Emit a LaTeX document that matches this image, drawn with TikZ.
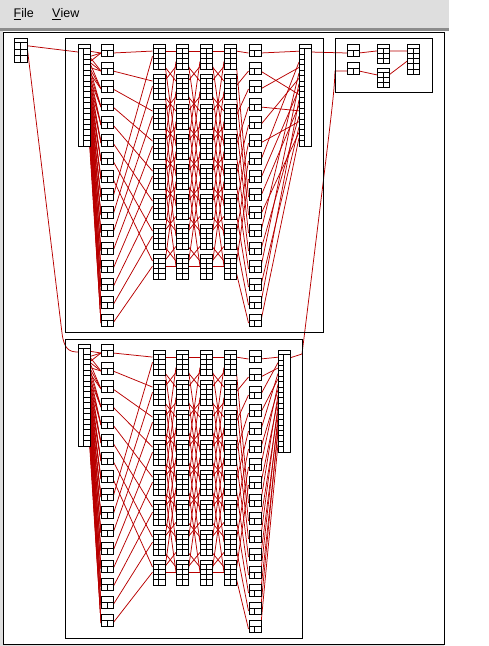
\documentclass[tikz,border=0pt]{standalone}
\usepackage{fontspec}
\setsansfont{Liberation Sans}
\usetikzlibrary{calc}
\pgfdeclarelayer{canvas}
\pgfdeclarelayer{edges}
\pgfsetlayers{canvas,edges,main}
\definecolor{edgered}{RGB}{185,0,0}
\definecolor{menugray}{RGB}{222,222,222}
\definecolor{menuline}{RGB}{140,140,140}
\tikzset{
 recbox/.style={draw=black, line width=0.8pt, fill=white, inner sep=0pt, anchor=north west, rectangle},
 cellline/.style={draw=black, line width=0.8pt},
 edge/.style={draw=edgered, line width=0.75pt},
 clusterbox/.style={draw=black, line width=0.9pt, inner sep=0pt, anchor=north west, rectangle},
 menutext/.style={anchor=base west, inner sep=0pt, font=\sffamily\fontsize{12.5}{14}\selectfont},
}
% small record: header + two cells
\newcommand\recS[3]{%
 \node[recbox, minimum width=12pt, minimum height=12pt] (#1) at (#2,#3) {};
 \draw[cellline] (#2,#3+6) -- ++(12,0) (#2+6,#3+6) -- ++(0,6);
 \coordinate (#1-l) at (#2,#3+9);
 \coordinate (#1-r) at (#2+12,#3+9);
}
% tall record: header + rows of two cells
\newcommand\recT[6]{%
 \node[recbox, minimum width=#4pt, minimum height=#5pt] (#1) at (#2,#3) {};
 \pgfmathsetmacro\rowh{(#5-4.5)/#6}
 \foreach \r in {1,...,#6} {
   \draw[cellline] (#2,#3+4.5+\r*\rowh-\rowh) -- ++(#4,0);
   \coordinate (#1-l\r) at (#2,#3+4.5+\r*\rowh-0.5*\rowh);
   \coordinate (#1-r\r) at (#2+#4,#3+4.5+\r*\rowh-0.5*\rowh);
 }
 \draw[cellline] (#2+0.5*#4,#3+4.5) -- (#2+0.5*#4,#3+#5);
}
% long column record with 18 port cells (side 0: ports right, 1: ports left)
\newcommand\colA[4]{%
 \node[recbox, minimum width=11.5pt, minimum height=102pt] (#1) at (#2,#3) {};
 \draw[cellline] (#2,#3+4.5) -- ++(11.5,0);
 \draw[cellline] (#2+5.75,#3+4.5) -- ++(0,97.5);
 \foreach \i in {1,...,17} {\draw[cellline] (#2+5.75-5.75*#4,#3+4.5+\i*5.4167) -- ++(5.75,0);}
 \foreach \i in {1,...,18} {\coordinate (#1-\i) at (#2+11.5-11.5*#4,#3+4.5+\i*5.4167-2.708);}
 \coordinate (#1-o) at (#2+11.5*#4,#3+8);
}
\newcommand\cluster[5]{%
 \colA{#1A}{78}{#2}{0}%
 \foreach \k in {1,...,16} {\recS{#1B\k}{101}{#2+18*\k-18}}%
 \foreach \k in {1,...,8} {%
   \recT{#1C\k}{152.5}{#3+30*\k-30}{12}{25}{4}%
   \recT{#1D\k}{176}{#3+30*\k-30}{12}{25}{4}%
   \recT{#1E\k}{200}{#3+30*\k-30}{12}{25}{4}%
   \recT{#1F\k}{224}{#3+30*\k-30}{12}{25}{4}}%
 \foreach \k in {1,...,16} {\recS{#1G\k}{248.5}{#3+18*\k-18}}%
 \colA{#1H}{#4}{#3}{1}%
 \begin{pgfonlayer}{edges}
  \foreach \k in {1,...,16} {\draw[edge] (#1A-\k) -- (#1B\k-l);}
  \foreach \k in {1,...,16} {\pgfmathtruncatemacro\j{min(\k+1,18)}\draw[edge] (#1A-\j) -- (#1B\k-l);}
  \foreach \k in {1,...,16} {\pgfmathtruncatemacro\j{min(\k+2,18)}\draw[edge] (#1A-\j) -- (#1B\k-l);}
  \foreach \k in {1,...,8} {\pgfmathtruncatemacro\j{\k+8}
    \draw[edge] (#1B\k-r) -- (#1C\k-l1);
    \draw[edge] (#1B\j-r) -- (#1C\k-l2);
    \draw[edge] (#1F\k-r3) -- (#1G\j-l);}
  \foreach \k in {2,...,8} {\draw[edge] (#1F\k-r2) -- (#1G\k-l);}
  \draw[edge] (#1F1-r1) -- (#1G1-l);
  \foreach \X/\Y in {C/D,D/E,E/F} {
    \draw[edge] (#1\X1-r1) -- (#1\Y1-l1);
    \draw[edge] (#1\X8-r2) -- (#1\Y8-l2);
    \foreach \k in {1,...,7} {\pgfmathtruncatemacro\j{\k+1}
      \draw[edge] (#1\X\k-r4) -- (#1\Y\j-l1);
      \draw[edge] (#1\X\j-r1) -- (#1\Y\k-l4);}
    \foreach \k in {1,...,5} {\pgfmathtruncatemacro\j{\k+3}
      \draw[edge] (#1\X\k-r3) -- (#1\Y\j-l2);
      \draw[edge] (#1\X\j-r2) -- (#1\Y\k-l3);}
  }
  \foreach \k/\h in {#5} {\draw[edge] (#1G\k-r) -- (#1H-\h);}
 \end{pgfonlayer}
}
\begin{document}
\begin{tikzpicture}[x=1pt,y=-1pt]
\useasboundingbox (0,0) rectangle (488,646);
\begin{pgfonlayer}{canvas}
 \fill[white] (0,0) rectangle (488,646);
 \fill[menugray] (0,0) rectangle (449,28);
 \fill[menuline] (0,28) rectangle (449,31);
 \fill[menugray] (0,31) rectangle (2.5,646);
 \fill[menugray] (0,644) rectangle (444,646);
\end{pgfonlayer}
\node[draw=black, line width=1.2pt, anchor=north west, inner sep=0pt, minimum width=440.5pt, minimum height=611.5pt] (canvasframe) at (3,32) {};
\node[menutext] (filemenu) at (13.5,17.5) {\underline{F}ile};
\node[menutext] (viewmenu) at (52,17.5) {\underline{V}iew};
% cluster frames
\node[clusterbox, minimum width=258pt, minimum height=294pt] (topcluster) at (65,37.5) {};
\node[clusterbox, minimum width=237pt, minimum height=299.5pt] (botcluster) at (65,338.5) {};
\node[clusterbox, minimum width=96.5pt, minimum height=54pt] (trcluster) at (335,38) {};
% clusters
\cluster{t}{44}{44}{299}{1/1,2/9,3/4,4/12,5/6,6/14,7/3,8/8,9/11,10/16,11/5,12/13,13/7,14/15,15/10,16/17}
\cluster{b}{344}{350}{278}{1/1,2/3,3/2,4/5,5/4,6/7,7/6,8/9,9/8,10/11,11/10,12/13,13/12,14/15,15/14,16/17}
% lone node and right cluster
\recT{tl}{14}{38}{13}{24}{3}
\recS{r1}{347}{44}
\recS{r2}{347}{62}
\recT{r3}{377}{44}{12}{19}{3}
\recT{r4}{377}{68}{12}{19}{3}
\recT{r5}{407}{44}{12}{30}{5}
\begin{pgfonlayer}{edges}
 \draw[edge] (tl-r1) -- (tA-o);
 \coordinate (tlbend) at (62,333);
 \draw[edge] (tl-r1) -- (tlbend) .. controls (64,349) and (69,352) .. (bA-o);
 \draw[edge] (tH-o) -- (r1-l);
 \draw[edge] (r1-r) -- (r3-l1);
 \draw[edge] (r3-r1) -- (r5-l1);
 \draw[edge] (r2-r) -- (r4-l1);
 \draw[edge] (r4-r1) -- (r5-l3);
 \coordinate (trbendA) at (335,71);
 \coordinate (trbendB) at (302,354);
 \draw[edge] (r2-l) -- (trbendA) .. controls (334,95) .. (trbendB) -- (bH-o);
\end{pgfonlayer}
\end{tikzpicture}
\end{document}
